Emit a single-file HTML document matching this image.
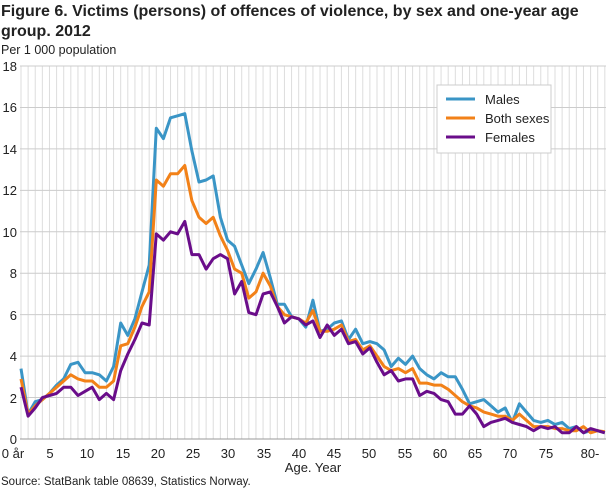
<!DOCTYPE html>
<html><head><meta charset="utf-8"><style>
body{margin:0;background:#fff;width:610px;height:488px;overflow:hidden;font-family:"Liberation Sans",sans-serif;}
svg text{font-family:"Liberation Sans",sans-serif;fill:#222;}
</style></head><body>
<svg id="s" width="610" height="488" xmlns="http://www.w3.org/2000/svg">
<text x="1" y="16" font-size="16" font-weight="bold" fill="#222">Figure 6. Victims (persons) of offences of violence, by sex and one-year age</text>
<text x="1" y="36" font-size="16" font-weight="bold">group. 2012</text>
<text x="1" y="54" font-size="12.5">Per 1 000 population</text>
<g id="grid"></g>
<g font-size="13" text-anchor="end">
<text x="17" y="444">0</text><text x="17" y="403">2</text><text x="17" y="361">4</text><text x="17" y="320">6</text><text x="17" y="278">8</text><text x="17" y="237">10</text><text x="17" y="195">12</text><text x="17" y="154">14</text><text x="17" y="112">16</text><text x="17" y="71">18</text>
</g>
<g font-size="13" text-anchor="middle">
<text x="13" y="458">0 år</text><text x="50" y="458">5</text><text x="87" y="458">10</text><text x="123" y="458">15</text><text x="158" y="458">20</text><text x="193" y="458">25</text><text x="228" y="458">30</text><text x="264" y="458">35</text><text x="299" y="458">40</text><text x="334" y="458">45</text><text x="369" y="458">50</text><text x="405" y="458">55</text><text x="440" y="458">60</text><text x="475" y="458">65</text><text x="510" y="458">70</text><text x="546" y="458">75</text><text x="590" y="458">80-</text>
<text x="313" y="472">Age. Year</text>
</g>
<text x="1" y="485" font-size="11.5">Source: StatBank table 08639, Statistics Norway.</text>
<g id="lines"></g>
<rect x="437" y="85" width="114" height="68" fill="#fff" stroke="#ccc"/>
<line x1="446" y1="99" x2="475" y2="99" stroke="#3a95c6" stroke-width="3"/>
<line x1="446" y1="118" x2="475" y2="118" stroke="#f28118" stroke-width="3"/>
<line x1="446" y1="137" x2="475" y2="137" stroke="#6a0d8a" stroke-width="3"/>
<text x="485" y="104" font-size="13">Males</text>
<text x="485" y="123" font-size="13">Both sexes</text>
<text x="485" y="142" font-size="13">Females</text>
</svg>
<script>
var NS="http://www.w3.org/2000/svg";
function X(i){return 21+7.12*i;}
function Y(v){return 439-v*20.72;}
var g=document.getElementById('grid'),h='';
for(var i=0;i<=82;i++){h+='<line x1="'+X(i)+'" y1="66" x2="'+X(i)+'" y2="439" stroke="#ddd" stroke-width="1"/>';}
for(var v=2;v<=18;v+=2){h+='<line x1="20" y1="'+Y(v)+'" x2="606" y2="'+Y(v)+'" stroke="#ccc" stroke-width="1"/>';}
h+='<line x1="20" y1="439" x2="606" y2="439" stroke="#999" stroke-width="1"/>';
g.innerHTML=h;
var M=[3.4,1.2,1.8,1.9,2.2,2.6,2.9,3.6,3.7,3.2,3.2,3.1,2.8,3.5,5.6,5.0,5.8,7.1,8.4,15.0,14.5,15.5,15.6,15.7,13.9,12.4,12.5,12.7,10.7,9.6,9.3,8.4,7.5,8.2,9.0,7.8,6.5,6.5,5.9,5.8,5.4,6.7,5.2,5.3,5.6,5.7,4.8,5.3,4.6,4.7,4.6,4.3,3.5,3.9,3.6,4.0,3.4,3.1,2.9,3.2,3.0,3.0,2.4,1.7,1.8,1.9,1.6,1.3,1.5,0.8,1.7,1.3,0.9,0.8,0.9,0.7,0.8,0.5,0.6,0.3,0.4,0.4,0.3];
var B=[2.9,1.2,1.6,1.9,2.2,2.5,2.8,3.1,2.9,2.8,2.8,2.5,2.5,2.8,4.5,4.6,5.4,6.4,7.1,12.5,12.2,12.8,12.8,13.2,11.5,10.7,10.4,10.7,9.8,9.1,8.2,8.0,6.8,7.1,8.0,7.4,6.4,6.0,5.9,5.8,5.6,6.2,5.2,5.2,5.3,5.5,4.7,4.8,4.3,4.5,4.0,3.5,3.3,3.4,3.2,3.4,2.7,2.7,2.6,2.6,2.4,2.1,1.8,1.6,1.5,1.3,1.2,1.1,1.1,0.9,1.2,0.9,0.6,0.6,0.6,0.5,0.5,0.4,0.4,0.6,0.3,0.4,0.35];
var F=[2.5,1.1,1.5,2.0,2.1,2.2,2.5,2.5,2.1,2.3,2.5,1.9,2.2,1.9,3.3,4.1,4.8,5.6,5.5,9.9,9.6,10.0,9.9,10.5,8.9,8.9,8.2,8.7,8.9,8.7,7.0,7.6,6.1,6.0,7.0,7.1,6.4,5.6,5.9,5.8,5.5,5.7,4.9,5.5,5.0,5.3,4.6,4.7,4.1,4.4,3.7,3.1,3.3,2.8,2.9,2.9,2.1,2.3,2.2,1.9,1.8,1.2,1.2,1.6,1.2,0.6,0.8,0.9,1.0,0.8,0.7,0.6,0.4,0.6,0.5,0.6,0.3,0.3,0.6,0.3,0.5,0.4,0.3];
var L='';
[[M,'#3a95c6'],[B,'#f28118'],[F,'#6a0d8a']].forEach(function(s){
var p=s[0].map(function(v,i){return X(i).toFixed(1)+','+Y(v).toFixed(1)}).join(' ');
L+='<polyline points="'+p+'" fill="none" stroke="'+s[1]+'" stroke-width="3" stroke-linejoin="round"/>';});
document.getElementById('lines').innerHTML=L;
</script>
</body></html>
